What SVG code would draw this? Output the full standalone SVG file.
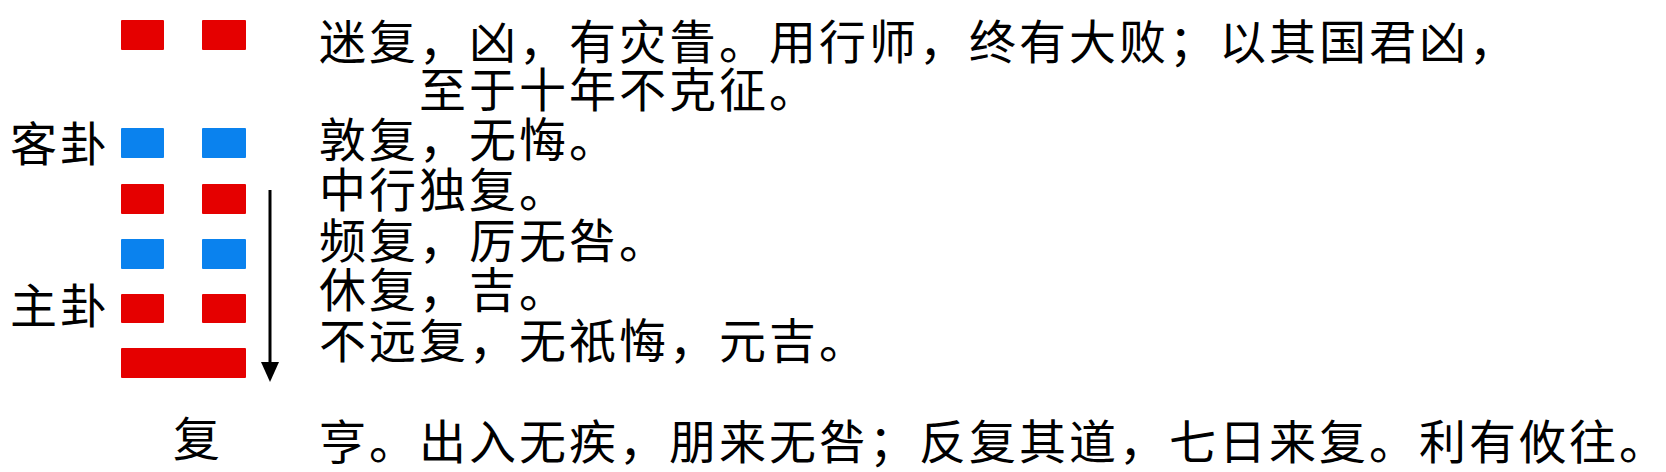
<svg xmlns="http://www.w3.org/2000/svg" width="1666" height="472" viewBox="0 0 1666 472">
  <style>
    .t { font-family: "Noto Sans CJK SC", "Noto Sans CJK TC", sans-serif; font-size: 47px; letter-spacing: 3px; fill: #000; }
    .red { fill: #E50000; }
    .blue { fill: #0A82EE; }
    .conn { stroke: #000; stroke-width: 3; fill: none; }
  </style>
  <defs>
    <marker id="arrow" viewBox="0 0 20 18" refX="13" refY="9" markerWidth="20" markerHeight="18" markerUnits="userSpaceOnUse" orient="auto">
      <path d="M0,0 L20,9 L0,18 z" fill="#000"/>
    </marker>
  </defs>
  <rect width="1666" height="472" fill="#fff"/>

  <g id="line6">
    <rect class="red" x="121" y="20" width="43" height="30" rx="1"/>
    <rect class="red" x="202" y="20" width="44" height="30" rx="1"/>
  </g>
  <g id="line5">
    <rect class="blue" x="121" y="128" width="43" height="30" rx="1"/>
    <rect class="blue" x="202" y="128" width="44" height="30" rx="1"/>
  </g>
  <g id="line4">
    <rect class="red" x="121" y="184" width="43" height="30" rx="1"/>
    <rect class="red" x="202" y="184" width="44" height="30" rx="1"/>
  </g>
  <g id="line3">
    <rect class="blue" x="121" y="239" width="43" height="30" rx="1"/>
    <rect class="blue" x="202" y="239" width="44" height="30" rx="1"/>
  </g>
  <g id="line2">
    <rect class="red" x="121" y="294" width="43" height="29" rx="1"/>
    <rect class="red" x="202" y="294" width="44" height="29" rx="1"/>
  </g>
  <g id="line1">
    <rect class="red" x="121" y="348" width="125" height="30" rx="1"/>
  </g>

  <g id="label-guest"><text class="t" x="10" y="161">客卦</text></g>
  <g id="label-host"><text class="t" x="10" y="323">主卦</text></g>
  <g id="label-name"><text class="t" x="173" y="456">复</text></g>

  <g id="text-6">
    <text class="t" x="319" y="59">迷复，凶，有灾眚。用行师，终有大败；以其国君凶，</text>
    <text class="t" x="419" y="107">至于十年不克征。</text>
  </g>
  <g id="text-5"><text class="t" x="319" y="157">敦复，无悔。</text></g>
  <g id="text-4"><text class="t" x="319" y="207">中行独复。</text></g>
  <g id="text-3"><text class="t" x="319" y="258">频复，厉无咎。</text></g>
  <g id="text-2"><text class="t" x="319" y="307">休复，吉。</text></g>
  <g id="text-1"><text class="t" x="319" y="358">不远复，无祇悔，元吉。</text></g>
  <g id="text-judgment"><text class="t" x="319" y="459">亨。出入无疾，朋来无咎；反复其道，七日来复。利有攸往。</text></g>

  <g id="connectors">
    <line class="conn" x1="270" y1="190" x2="270" y2="375" marker-end="url(#arrow)"/>
  </g>
</svg>
